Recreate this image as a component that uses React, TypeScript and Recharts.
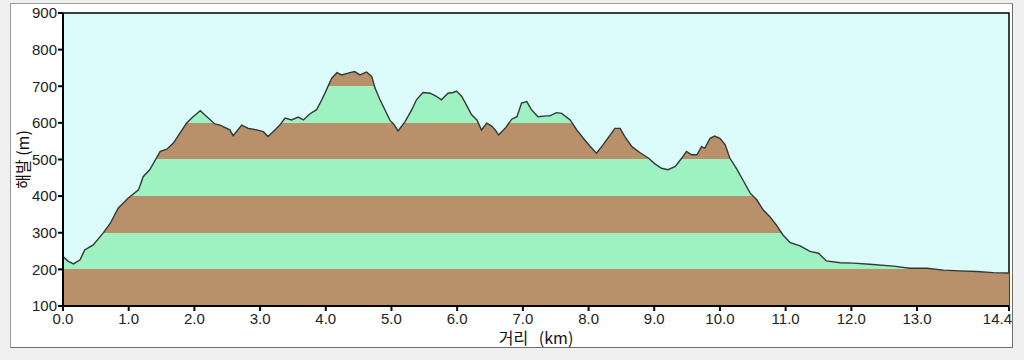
import { Area, CartesianGrid, ComposedChart, ReferenceArea, XAxis, YAxis } from 'recharts';

// elevation profile (km along the route, metres above sea level)
const distanceKm = [
  0.0, 0.08, 0.16, 0.26, 0.33, 0.46, 0.61, 0.72, 0.84, 0.99, 1.15, 1.22, 1.32, 1.48, 1.58, 1.68,
  1.78, 1.88, 1.98, 2.09, 2.19, 2.31, 2.39, 2.54, 2.59, 2.72, 2.82, 2.95, 3.05, 3.12, 3.23, 3.3,
  3.38, 3.48, 3.58, 3.66, 3.76, 3.86, 3.94, 4.01, 4.09, 4.17, 4.24, 4.34, 4.44, 4.52, 4.62, 4.7,
  4.75, 4.82, 4.9, 4.98, 5.03, 5.1, 5.21, 5.31, 5.38, 5.48, 5.59, 5.69, 5.76, 5.86, 5.94, 5.99,
  6.07, 6.14, 6.22, 6.3, 6.37, 6.45, 6.52, 6.58, 6.63, 6.73, 6.83, 6.91, 6.98, 7.06, 7.13, 7.23,
  7.36, 7.41, 7.51, 7.59, 7.72, 7.82, 7.92, 8.02, 8.12, 8.22, 8.33, 8.4, 8.48, 8.55, 8.66, 8.78,
  8.91, 9.01, 9.11, 9.21, 9.32, 9.42, 9.49, 9.57, 9.65, 9.72, 9.77, 9.85, 9.92, 10.0, 10.08, 10.15,
  10.25, 10.35, 10.46, 10.56, 10.66, 10.76, 10.86, 10.96, 11.07, 11.22, 11.37, 11.5, 11.62, 11.83,
  12.03, 12.28, 12.64, 12.89, 13.15, 13.4, 13.65, 13.91, 14.16, 14.4,
];
const elevationM = [
  235, 222, 215, 226, 253, 267, 299, 326, 367, 394, 417, 453, 472, 522, 528, 545,
  572, 599, 617, 633, 617, 597, 594, 581, 565, 594, 585, 581, 576, 563, 581, 594,
  613, 608, 616, 608, 625, 636, 663, 690, 722, 737, 731, 736, 740, 731, 739, 727,
  695, 665, 636, 606, 598, 578, 604, 636, 663, 683, 681, 672, 663, 681, 683, 687,
  672, 649, 622, 608, 581, 599, 592, 581, 567, 585, 610, 617, 654, 658, 636, 617,
  619, 619, 628, 626, 608, 581, 558, 537, 517, 540, 567, 585, 585, 563, 535, 519,
  504, 488, 476, 472, 481, 504, 522, 513, 513, 535, 531, 558, 564, 558, 540, 504,
  476, 444, 408, 390, 362, 344, 321, 294, 273, 264, 249, 244, 223, 218,
  217, 214, 209, 203, 203, 198, 196, 194, 191, 190,
];

const xTicks = [0, 1, 2, 3, 4, 5, 6, 7, 8, 9, 10, 11, 12, 13, 14.4];
const yTicks = [100, 200, 300, 400, 500, 600, 700, 800, 900];
// 100 m colour bands, brown from 100-200, then alternating
const bandFloors = [100, 200, 300, 400, 500, 600, 700, 800];
const bandColors = ['#b8906a', '#9ef1c1'];

const data = distanceKm.map((km, i) => ({ km, elev: elevationM[i] }));

// hard-stop gradient over the area's bounding box (top = highest point, bottom = 100 m)
const BASE = 100;
const PEAK = Math.max(...elevationM);
const offsetOf = (v: number) => Math.min(1, Math.max(0, (PEAK - v) / (PEAK - BASE)));
const stops: { offset: number; color: string }[] = [];
[...bandFloors].reverse().forEach(lo => {
  const color = bandColors[(lo / 100 - 1) % 2];
  stops.push({ offset: offsetOf(lo + 100), color });
  stops.push({ offset: offsetOf(lo), color });
});

const FONT = '"Liberation Sans", Arial, sans-serif';
const KR_FONT = '"Noto Sans CJK KR", sans-serif';

function XTick({ x, y, payload }: any) {
  const last = payload.value === 14.4;
  return (
    <text
      x={last ? x + 3 : x}
      y={y + 11}
      textAnchor={last ? 'end' : 'middle'}
      fontSize={15}
      fontFamily={FONT}
      fill="#222"
    >
      {payload.value.toFixed(1)}
    </text>
  );
}

export default function App() {
  return (
    <div style={{ position: 'absolute', left: 0, top: 0, width: 1024, height: 360, background: '#f0f0f0' }}>
      <div
        style={{
          position: 'absolute',
          left: 10,
          top: 3,
          width: 1001,
          height: 343,
          background: '#fff',
          border: '1px solid #9a9a9a',
          borderRightColor: '#6e6e6e',
          borderBottomColor: '#6e6e6e',
        }}
      />
      <div style={{ position: 'absolute', left: 0, top: 0 }}>
        <ComposedChart width={1024} height={360} data={data} margin={{ top: 13, right: 15, bottom: 0, left: 0 }}>
          <defs>
            <linearGradient id="bands" x1="0" y1="0" x2="0" y2="1">
              {stops.map((s, i) => (
                <stop key={i} offset={s.offset} stopColor={s.color} />
              ))}
            </linearGradient>
          </defs>
          <CartesianGrid fill="#dcfcfc" horizontal={false} vertical={false} />
          <XAxis
            dataKey="km"
            type="number"
            domain={[0, 14.4]}
            ticks={xTicks}
            height={54}
            axisLine={{ stroke: '#000', strokeWidth: 2 }}
            tickLine={{ stroke: '#000', strokeWidth: 2 }}
            tickSize={5}
            tick={<XTick />}
            label={{
              value: '거리\u00a0\u00a0\u00a0(km)',
              position: 'insideBottom',
              offset: 16,
              fontSize: 16,
              fill: '#111',
              fontFamily: KR_FONT,
            }}
          />
          <YAxis
            type="number"
            domain={[100, 900]}
            ticks={yTicks}
            allowDataOverflow
            width={63}
            axisLine={{ stroke: '#000', strokeWidth: 2 }}
            tickLine={{ stroke: '#000', strokeWidth: 2 }}
            tickSize={5}
            tickMargin={1}
            tick={{ fontSize: 15, fill: '#222', fontFamily: FONT }}
            label={{
              value: '해발 (m)',
              angle: -90,
              position: 'insideLeft',
              offset: 23,
              style: { textAnchor: 'middle' },
              fontSize: 16,
              fill: '#111',
              fontFamily: KR_FONT,
            }}
          />
          <ReferenceArea x1={0} x2={14.4} y1={100} y2={900} fill="none" stroke="#000" strokeWidth={1.5} ifOverflow="visible" />
          <Area
            dataKey="elev"
            type="linear"
            baseValue={BASE}
            stroke="#333836"
            strokeWidth={1.4}
            fill="url(#bands)"
            fillOpacity={1}
            dot={false}
            activeDot={false}
            isAnimationActive={false}
          />
        </ComposedChart>
      </div>
    </div>
  );
}
